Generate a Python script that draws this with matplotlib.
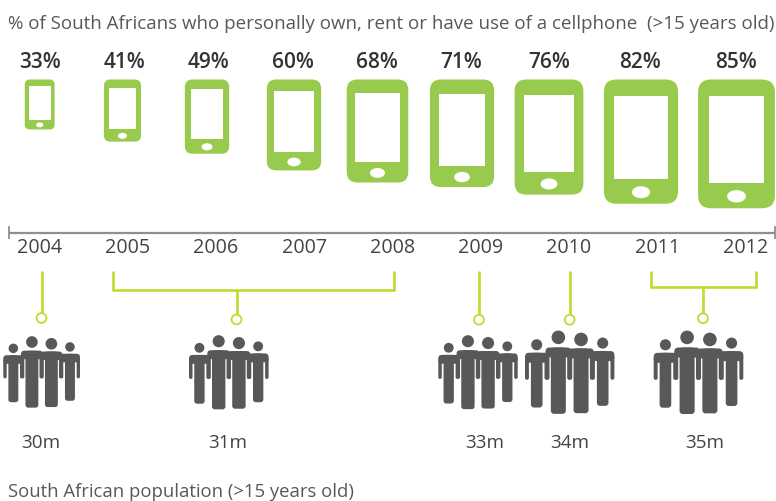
import matplotlib
matplotlib.use("Agg")
import matplotlib.pyplot as plt
from matplotlib.patches import FancyBboxPatch, Ellipse, Rectangle, Circle

plt.rcParams['font.family'] = ['Open Sans', 'DejaVu Sans']

# Cellphone access by year
years = [2004, 2005, 2006, 2007, 2008, 2009, 2010, 2011, 2012]
cell_share = [33, 41, 49, 60, 68, 71, 76, 82, 85]

# Population aged over 15, in millions, with the years each figure covers
pop_millions = [30, 31, 33, 34, 35]
pop_spans = [(2004, 2004), (2005, 2008), (2009, 2009), (2010, 2010), (2011, 2012)]

GREEN = '#98CB4D'
LIME = '#C4D92F'
DARK = '#585858'
TEXT = '#444444'
AXIS = '#8f8f8f'

fig = plt.figure(figsize=(7.76, 5.02), dpi=100)
ax = fig.add_axes([0, 0, 1, 1])
ax.set_xlim(0, 776)
ax.set_ylim(502, 0)
ax.axis('off')


def rounded(x0, y0, x1, y1, r, color, z=2):
    """Rounded rectangle given by its corners, in axes units."""
    r = min(r, (x1 - x0) / 2, (y1 - y0) / 2)
    ax.add_patch(FancyBboxPatch((x0 + r, y0 + r), x1 - x0 - 2 * r, y1 - y0 - 2 * r,
                                boxstyle=f'round,pad={r},rounding_size={r}',
                                fc=color, ec='none', zorder=z))


def phone(cx, value):
    """Phone icon whose width and height grow with the percentage."""
    w, h = 0.905 * value, 1.515 * value
    top = 80.5
    rounded(cx - w / 2, top, cx + w / 2, top + h, 0.17 * w, GREEN)
    sw = 0.725 * w
    ax.add_patch(Rectangle((cx - sw / 2, top + 0.132 * h), sw, 0.67 * h,
                           fc='white', ec='none', zorder=3))
    ax.add_patch(Ellipse((cx, top + 0.907 * h), 0.245 * w, 0.096 * h,
                         fc='white', ec='none', zorder=3))


# Phone row
phone_x = [39.7, 122.5, 207, 294, 377.5, 462, 549, 641, 736.5]
label_x = [40, 124, 208.5, 293, 377, 461.5, 549, 640, 736]
for cx, lx, v in zip(phone_x, label_x, cell_share):
    phone(cx, v)
    ax.text(lx, 63, f'{v}%', ha='center', va='center', fontsize=15,
            color='#333333', fontweight='semibold')

ax.text(8.5, 24, '% of South Africans who personally own, rent or have use of a cellphone  (>15 years old)',
        ha='left', va='center', fontsize=13.5, color='#585858')

# Year axis
ax.plot([8.5, 775], [233.5, 233.5], color=AXIS, lw=1.6, solid_capstyle='butt')
for x in (8.5, 775):
    ax.plot([x, x], [227, 240], color=AXIS, lw=1.3, solid_capstyle='butt')


def year_x(y):
    return 39.5 + 88.25 * (y - years[0])


for y in years:
    ax.text(year_x(y), 248.5, str(y), ha='center', va='center', fontsize=14.2, color=TEXT)

# Template for a group of four people: head x, head y, head r, shoulder y, foot y,
# half torso width, half shoulder width, in a box 1 wide.
TEMPLATE = [
    (0.131, 0.169, 0.062, 0.265, 0.924, 0.065, 0.131),
    (0.373, 0.080, 0.076, 0.202, 1.000, 0.084, 0.143),
    (0.627, 0.105, 0.076, 0.213, 0.992, 0.084, 0.143),
    (0.869, 0.149, 0.062, 0.245, 0.904, 0.065, 0.131),
]
ARM_END = 0.590
ARM_W = 0.044
ASPECT = 0.93


def crowd(x0, y0, width):
    height = width * ASPECT
    for hx, hy, hr, sy, fy, tw, sw in TEMPLATE:
        cx = x0 + hx * width
        ax.add_patch(Circle((cx, y0 + hy * height), hr * width, fc=DARK, ec='none', zorder=2))
        # torso and legs
        rounded(cx - tw * width, y0 + sy * height, cx + tw * width, y0 + fy * height,
                0.035 * width, DARK)
        # shoulders
        rounded(cx - sw * width, y0 + sy * height, cx + sw * width, y0 + (sy + 0.12) * height,
                0.045 * width, DARK)
        # arms
        for ax0 in (cx - sw * width, cx + sw * width - ARM_W * width):
            rounded(ax0, y0 + (sy + 0.05) * height, ax0 + ARM_W * width, y0 + ARM_END * height,
                    ARM_W * width / 2, DARK)


crowd_left = [3.3, 189, 438.3, 525, 653.7]
crowd_top = [337.3, 336.3, 336.3, 331.7, 331.7]
crowd_width = [76.7, 79.6, 79.4, 89.4, 89.6]
value_x = [41, 228, 484.5, 569.5, 704.5]

# Connector geometry for each period: left leg, right leg, stem, bracket y, ring y
legs = [(41.5, 41.5, 41.5, 272, 319), (113, 393.5, 236.5, 290.5, 320.5),
        (479, 479, 479, 272, 320.7), (569.7, 569.7, 569.7, 272, 320.7),
        (650.7, 755.7, 703, 287.8, 319.3)]

for m, left, top, width, lx, (xa, xb, xs, by, ry), span in zip(
        pop_millions, crowd_left, crowd_top, crowd_width, value_x, legs, pop_spans):
    crowd(left, top, width)
    ax.text(lx, 443, f'{m}m', ha='center', va='center', fontsize=13.6, color=TEXT)
    if span[0] != span[1]:
        ax.plot([xa, xa, xb, xb], [272, by, by, 272], color=LIME, lw=1.9,
                solid_joinstyle='miter', solid_capstyle='butt')
    ax.plot([xs, xs], [by if span[0] != span[1] else 272, ry - 5], color=LIME, lw=1.9,
            solid_capstyle='butt')
    ax.add_patch(Circle((xs, ry), 4.9, fc='white', ec=LIME, lw=1.3, zorder=3))

ax.text(8, 492.5, 'South African population (>15 years old)', ha='left', va='center',
        fontsize=13.3, color='#585858')

fig.savefig('out.png', dpi=100)
